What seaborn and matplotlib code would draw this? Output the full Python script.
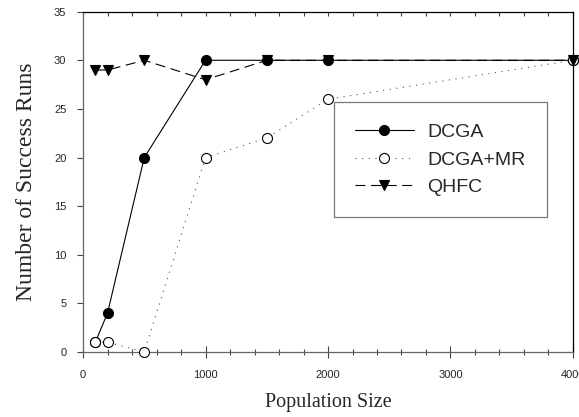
import matplotlib
matplotlib.use('Agg')
import matplotlib.pyplot as plt
from matplotlib.ticker import MultipleLocator
import seaborn as sns
import pandas as pd

# population sizes and success runs (out of 30)
pop_sizes = [100, 200, 500, 1000, 1500, 2000, 4000]
dcga = [1, 4, 20, 30, 30, 30, 30]
dcga_mr = [1, 1, 0, 20, 22, 26, 30]
qhfc = [29, 29, 30, 28, 30, 30, 30]
series_names = ["DCGA", "DCGA+MR", "QHFC"]

df = pd.DataFrame({"size": pop_sizes, "DCGA": dcga, "DCGA+MR": dcga_mr, "QHFC": qhfc})

sns.set_theme(style="white")
plt.rcParams['font.family'] = ['Liberation Sans', 'DejaVu Sans']

fig = plt.figure(figsize=(5.79, 4.17), dpi=100)
ax = fig.add_axes([0.1434, 0.1559, 0.8462, 0.8161])

styles = {
    "DCGA": dict(color="black", linestyle="-", marker="o", markerfacecolor="black"),
    "DCGA+MR": dict(color="#555555", linestyle=(0, (1, 5)), marker="o", markerfacecolor="white"),
    "QHFC": dict(color="black", linestyle=(0, (9, 5)), marker="v", markerfacecolor="black"),
}
for name in series_names:
    sns.lineplot(data=df, x="size", y=name, ax=ax, label=name, linewidth=0.8,
                 markersize=7.2, markeredgecolor="black", markeredgewidth=0.8,
                 clip_on=False, zorder=3, **styles[name])

ax.set_xlim(0, 4000)
ax.set_ylim(0, 35)
ax.xaxis.set_major_locator(MultipleLocator(1000))
ax.xaxis.set_minor_locator(MultipleLocator(200))
ax.yaxis.set_major_locator(MultipleLocator(5))
ax.tick_params(axis='x', which='major', direction='inout', length=8, width=0.8,
               color='#444444', labelsize=8, pad=9, bottom=True)
ax.tick_params(axis='x', which='minor', direction='inout', length=5, width=0.8,
               color='#444444', bottom=True)
ax.tick_params(axis='y', which='major', direction='out', length=4, width=0.8,
               color='#444444', labelsize=8, pad=8, left=True)

top = ax.secondary_xaxis('top')
top.xaxis.set_major_locator(MultipleLocator(200))
top.tick_params(direction='in', length=3, width=0.8, color='#444444', labeltop=False)
top.spines['top'].set_visible(False)

for side in ['left', 'bottom']:
    ax.spines[side].set_color('#666666')
    ax.spines[side].set_linewidth(0.9)
for side in ['top', 'right']:
    ax.spines[side].set_color('black')
    ax.spines[side].set_linewidth(0.9)

ax.set_xlabel("Population Size", family=['Liberation Serif'], fontsize=14.5, labelpad=9)
ax.set_ylabel("Number of Success Runs", family=['Liberation Serif'], fontsize=17, labelpad=12)

leg = ax.legend(loc='upper left', bbox_to_anchor=(0.512, 0.734), borderaxespad=0,
                fontsize=14, handlelength=3.0, handletextpad=0.7, labelspacing=0.5,
                borderpad=1.1, fancybox=False, frameon=True)
leg.get_frame().set_edgecolor('#555555')
leg.get_frame().set_linewidth(0.9)

plt.savefig("out.png", dpi=100)
